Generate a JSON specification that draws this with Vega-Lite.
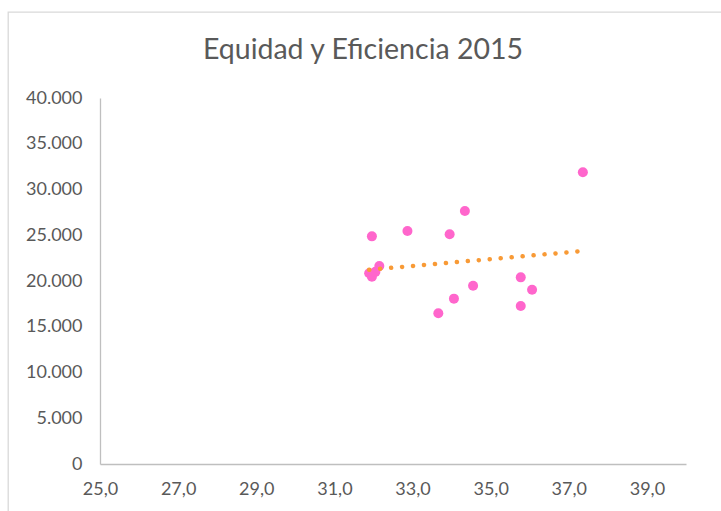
{
  "$schema": "https://vega.github.io/schema/vega-lite/v6.json",
  "autosize": "none",
  "width": 720,
  "height": 510,
  "padding": {"left": 8, "top": 12, "right": 0, "bottom": 0},
  "background": "white",
  "title": {
    "text": "Equidad y Eficiencia 2015",
    "font": "Lato",
    "fontSize": 28.5,
    "fontWeight": "normal",
    "color": "#595959",
    "anchor": "middle",
    "frame": "group",
    "baseline": "alphabetic",
    "offset": -75,
    "dx": -5
  },
  "data": {
    "values": [
      {"equidad": 37.36, "eficiencia": 31880},
      {"equidad": 34.34, "eficiencia": 27650},
      {"equidad": 32.87, "eficiencia": 25460},
      {"equidad": 31.96, "eficiencia": 24880},
      {"equidad": 33.95, "eficiencia": 25100},
      {"equidad": 32.15, "eficiencia": 21640},
      {"equidad": 31.89, "eficiencia": 20840},
      {"equidad": 31.96, "eficiencia": 20470},
      {"equidad": 32.05, "eficiencia": 21000},
      {"equidad": 35.77, "eficiencia": 20400},
      {"equidad": 36.06, "eficiencia": 19050},
      {"equidad": 34.55, "eficiencia": 19490},
      {"equidad": 34.06, "eficiencia": 18070},
      {"equidad": 35.77, "eficiencia": 17270},
      {"equidad": 33.66, "eficiencia": 16470}
    ]
  },
  "encoding": {
    "x": {
      "field": "equidad",
      "type": "quantitative",
      "scale": {"domain": [25, 40], "range": [92, 678], "nice": false, "zero": false},
      "axis": {
        "title": null,
        "values": [25, 27, 29, 31, 33, 35, 37, 39],
        "format": ".1f",
        "offset": -58,
        "ticks": false,
        "grid": false,
        "labelFlush": false,
        "labelOverlap": false,
        "labelPadding": 16,
        "labelFont": "Lato",
        "labelFontSize": 18,
        "labelColor": "#595959",
        "domainColor": "#BFBFBF",
        "domainWidth": 1.3
      }
    },
    "y": {
      "field": "eficiencia",
      "type": "quantitative",
      "scale": {"domain": [0, 40000], "range": [452, 86], "nice": false},
      "axis": {
        "title": null,
        "values": [0, 5000, 10000, 15000, 20000, 25000, 30000, 35000, 40000],
        "format": ",.0f",
        "offset": -92,
        "ticks": false,
        "grid": false,
        "labelFlush": false,
        "labelOverlap": false,
        "labelPadding": 18,
        "labelFont": "Lato",
        "labelFontSize": 18,
        "labelColor": "#595959",
        "domainColor": "#BFBFBF",
        "domainWidth": 1.3
      }
    }
  },
  "layer": [
    {
      "mark": {"type": "point", "filled": true, "opacity": 1, "size": 100, "color": "#FF66CC"}
    },
    {
      "transform": [{"regression": "eficiencia", "on": "equidad"}],
      "mark": {
        "type": "line",
        "color": "#F89A36",
        "strokeWidth": 4.5,
        "strokeCap": "round",
        "strokeDash": [0.1, 10.9]
      }
    }
  ],
  "config": {
    "locale": {
      "number": {"decimal": ",", "thousands": ".", "grouping": [3], "currency": ["", " €"]}
    },
    "view": {"stroke": "#D9D9D9", "strokeWidth": 1.3, "fill": "white"}
  }
}
